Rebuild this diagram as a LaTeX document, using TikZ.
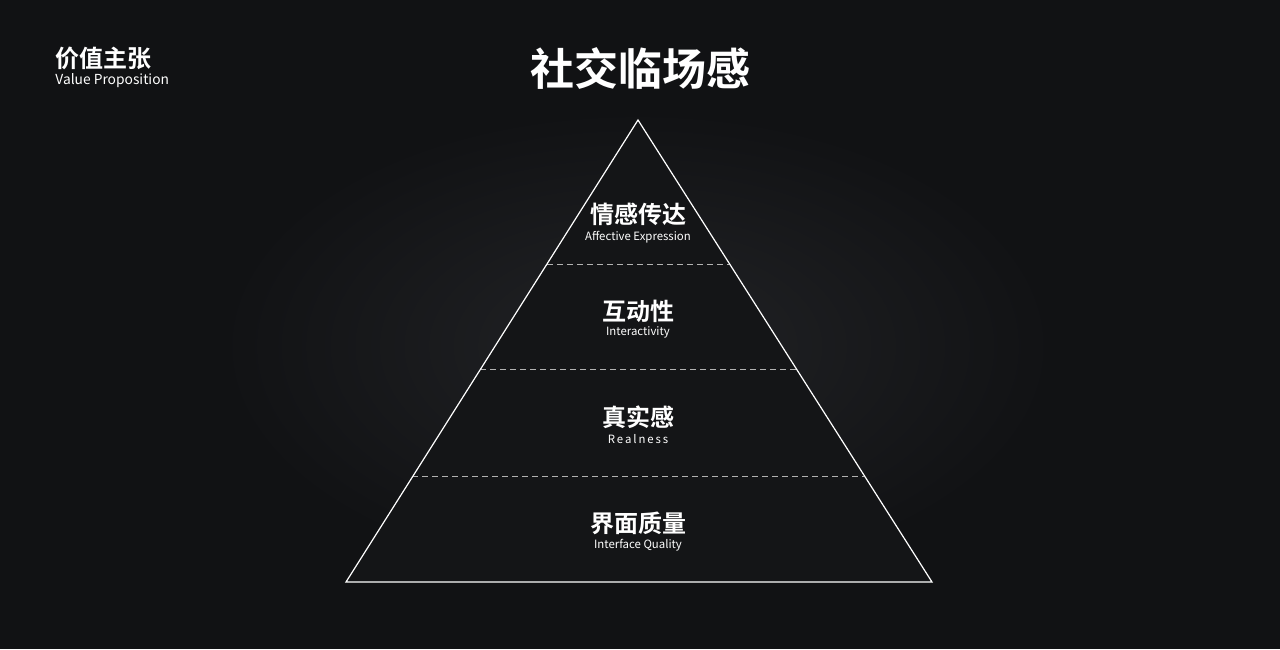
\documentclass[tikz,border=0pt]{standalone}
\usepackage{fontspec}
\newfontfamily\cjk{Noto Sans CJK SC}
\newfontfamily\cjkb{Noto Sans CJK SC Bold}
\definecolor{bg}{HTML}{111214}
\definecolor{glow}{HTML}{222326}
\definecolor{tri}{HTML}{141517}
\tikzset{
  zh/.style={text=white,font=\cjkb\fontsize{12}{13}\selectfont,inner sep=0},
  en/.style={text=white,font=\cjk\fontsize{5.7}{6}\selectfont,inner sep=0},
  sep/.style={draw=gray!60,dashed,dash pattern=on 3pt off 2pt,line width=0.25pt}
}
\begin{document}
\begin{tikzpicture}[x=0.5pt,y=-0.5pt]
\fill[bg] (0,0) rectangle (1280,649);
\useasboundingbox (0,0) rectangle (1280,649);
\shade[inner color=glow,outer color=bg] (220,110) rectangle (1055,582);
\fill[bg] (220,582) rectangle (1055,649);
\node[text=white,font=\cjkb\fontsize{22}{24}\selectfont,inner sep=0] (title) at (640,68) {社交临场感};
\node[text=white,font=\cjkb\fontsize{12}{13}\selectfont,anchor=west,inner sep=0] (vp) at (55,58) {价值主张};
\node[text=white,font=\cjk\fontsize{6.9}{8}\selectfont,anchor=west,inner sep=0] (vpe) at (55,81) {Value Proposition};
\coordinate (apex) at (638,120);
\coordinate (bl) at (346,582);
\coordinate (br) at (932,582);
\fill[tri] (apex) -- (br) -- (bl) -- cycle;
\coordinate (a1) at (547,264); \coordinate (b1) at (729,264);
\coordinate (a2) at (480,369); \coordinate (b2) at (796,369);
\coordinate (a3) at (412,476); \coordinate (b3) at (864,476);
\draw[sep] (a1) -- (b1);
\draw[sep] (a2) -- (b2);
\draw[sep] (a3) -- (b3);
\draw[white,line width=0.6pt,line join=miter] (apex) -- (br) -- (bl) -- cycle;
\node[zh] (z1) at (638,214) {情感传达};
\node[en] (e1) at (638,237) {Affective Expression};
\node[zh] (z2) at (638,311) {互动性};
\node[en] (e2) at (638,332) {Interactivity};
\node[zh] (z3) at (638,417) {真实感};
\node[en] (e3) at (638,439) {R\,e\,a\,l\,n\,e\,s\,s};
\node[zh] (z4) at (638,523) {界面质量};
\node[en] (e4) at (638,545) {Interface Quality};
\end{tikzpicture}
\end{document}
